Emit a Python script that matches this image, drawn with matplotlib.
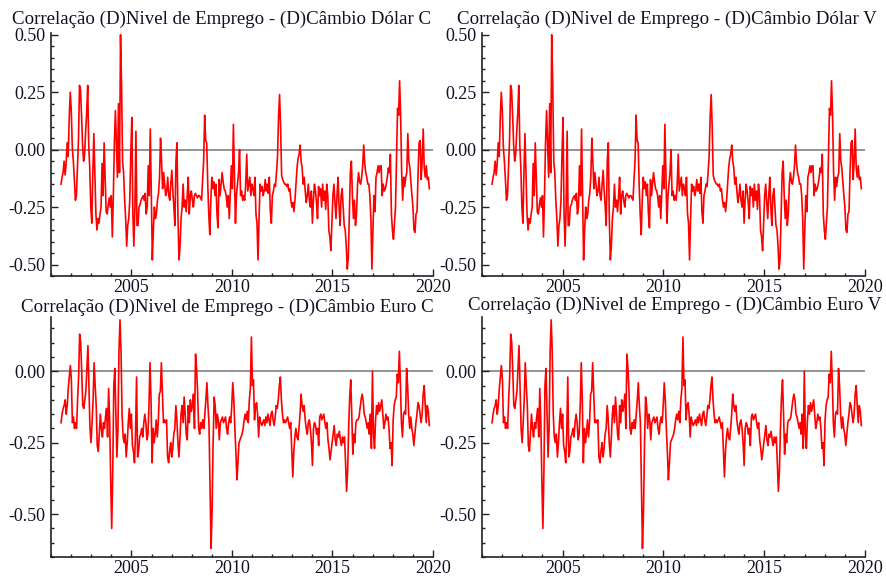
import matplotlib
matplotlib.use("Agg")
import matplotlib.pyplot as plt
import matplotlib.dates as mdates
import matplotlib.ticker as mticker
import pandas as pd
from datetime import datetime

plt.rcParams['font.family'] = ['Liberation Serif', 'DejaVu Serif']
plt.rcParams['axes.unicode_minus'] = False

# rolling correlations, read off the picture from Jul 2001 to Oct 2019
# (roughly two readings per month, evenly spaced in time)
inicio, fim = "2001-07-02", "2019-10-27"

dolar_c = [
    -0.15, -0.12, -0.10, -0.05, -0.11, -0.06, 0.03, -0.03, 0.14, 0.25, 0.17, 0.01, -0.05, -0.13,
    -0.22, -0.20, -0.08, 0.04, 0.28, 0.26, 0.15, 0.02, -0.05, -0.02, 0.08, 0.16, 0.28, 0.02,
    -0.08, -0.25, -0.32, -0.10, 0.07, -0.10, -0.28, -0.35, -0.30, -0.32, -0.28, -0.25,
    -0.06, -0.20, 0.03, -0.12, -0.27, -0.28, -0.24, -0.21, -0.25, -0.20, -0.38, -0.20, 0.03,
    0.17, 0.03, -0.12, 0.20, -0.10, 0.50, 0.28, -0.05, -0.10, -0.22, -0.30, -0.42,
    -0.33, -0.30, -0.22, -0.02, 0.14, -0.28, -0.42, -0.25, 0.08, -0.33, -0.33, -0.25, -0.24,
    -0.22, -0.21, -0.20, -0.22, -0.19, -0.28, -0.25, -0.07, -0.20, 0.09, -0.20, -0.48,
    -0.35, -0.25, -0.30, -0.28, -0.22, -0.19, -0.12, 0.05, -0.05, -0.17, -0.10, -0.15,
    -0.20, -0.18, -0.12, -0.20, -0.22, -0.15, -0.09, -0.18, -0.25, -0.33, -0.05, 0.03,
    -0.30, -0.48, -0.42, -0.30, -0.25, -0.15, -0.25, -0.22, -0.27, -0.20, -0.12, -0.28,
    -0.20, -0.18, -0.22, -0.25, -0.20, -0.19, -0.20, -0.21, -0.20, -0.20, -0.21,
    -0.22, -0.13, -0.05, 0.15, 0.04, 0.03, -0.15, -0.28, -0.37, -0.22, -0.12, -0.17,
    -0.14, -0.20, -0.15, -0.28, -0.34, -0.13, -0.20, -0.15, -0.10, -0.14, -0.17, -0.18,
    -0.20, -0.25, -0.20, -0.30, -0.18, -0.07, -0.17, 0.11, -0.10, -0.32, -0.20, -0.15,
    -0.10, 0.00, -0.20, -0.18, -0.22, -0.20, -0.22, -0.15, -0.02, -0.18, -0.15,
    -0.12, -0.20, -0.15, -0.17, -0.20, -0.12, -0.28, -0.32, -0.48, -0.30, -0.15, -0.18,
    -0.16, -0.20, -0.18, -0.13, -0.18, -0.15, -0.19, -0.12, -0.27, -0.32, -0.20, -0.18,
    -0.15, -0.16, -0.10, -0.03, 0.14, 0.24, 0.10, -0.11, -0.13, -0.14, -0.15, -0.15,
    -0.16, -0.15, -0.18, -0.17, -0.22, -0.25, -0.23, -0.27, -0.22, -0.15, -0.08,
    -0.04, -0.02, 0.02, -0.05, -0.08, -0.15, -0.12, -0.18, -0.23, -0.20, -0.15, -0.22,
    -0.25, -0.18, -0.32, -0.22, -0.15, -0.18, -0.23, -0.30, -0.16, -0.20, -0.17, -0.25,
    -0.15, -0.22, -0.18, -0.26, -0.15, -0.20, -0.35, -0.38, -0.44, -0.32, -0.20,
    -0.15, -0.23, -0.30, -0.20, -0.12, -0.25, -0.33, -0.20, -0.17, -0.25, -0.33, -0.35,
    -0.42, -0.52, -0.47, -0.29, -0.10, -0.05, -0.20, -0.30, -0.22, -0.33, -0.28, -0.15,
    -0.10, -0.14, -0.15, -0.12, -0.07, 0.02, -0.06, -0.10, -0.12, -0.15, -0.15,
    -0.20, -0.30, -0.52, -0.35, -0.20, -0.27, -0.12, -0.10, -0.07, -0.10, -0.07,
    -0.07, -0.20, -0.15, -0.18, -0.17, -0.15, -0.12, -0.08, -0.10, -0.02, -0.28, -0.35,
    -0.39, -0.32, -0.25, -0.03, 0.18, 0.15, 0.30, 0.15, -0.10, -0.22, -0.12, -0.16,
    -0.12, -0.10, 0.07, -0.05, -0.08, -0.14, -0.20, -0.25, -0.35, -0.36, -0.28, -0.27,
    -0.10, 0.03, 0.04, -0.13, -0.05, 0.09, -0.08, -0.12, -0.07, -0.13, -0.12, -0.17,
]
# the "V" panels look the same as the "C" panels in the picture
dolar_v = list(dolar_c)

euro_c = [
    -0.18, -0.15, -0.13, -0.12, -0.10, -0.15, -0.12, -0.06, -0.02, 0.02, -0.03, -0.18, -0.16, -0.20,
    -0.18, -0.20, -0.10, -0.02, 0.13, 0.10, 0.00, -0.12, -0.13, -0.10, -0.07, 0.01, 0.09, -0.05, -0.20,
    -0.25, -0.18, -0.10, 0.03, -0.05, -0.12, -0.26, -0.28, -0.22, -0.15, -0.20, -0.23, -0.18,
    -0.20, -0.16, -0.13, -0.23, -0.06, -0.17, -0.38, -0.55, -0.35, -0.05, 0.01, -0.15, -0.30,
    -0.20, 0.07, 0.18, 0.07, -0.15, -0.23, -0.25, -0.22, -0.30, -0.25, -0.18, -0.13,
    -0.20, -0.15, -0.26, -0.28, -0.32, -0.22, -0.02, -0.30, -0.28, -0.23, -0.22, -0.20,
    -0.23, -0.18, -0.15, -0.18, -0.24, -0.22, -0.12, 0.03, -0.10, -0.32, -0.20, -0.25,
    -0.22, -0.17, -0.23, -0.18, -0.08, -0.07, 0.03, -0.07, -0.18, -0.17, -0.18, -0.17,
    -0.30, -0.32, -0.28, -0.25, -0.30, -0.27, -0.22, -0.20, -0.12, -0.17, -0.25, -0.30,
    -0.23, -0.15, -0.12, -0.18, -0.09, -0.15, -0.22, -0.24, -0.12, -0.18, -0.10, -0.14,
    -0.12, -0.08, -0.20, 0.06, 0.01, -0.07, -0.20, -0.22, -0.18, -0.20, -0.17, -0.20,
    -0.15, -0.10, -0.04, -0.12, -0.18, -0.40, -0.62, -0.49, -0.25, -0.09, -0.12, -0.20,
    -0.15, -0.17, -0.24, -0.18, -0.17, -0.16, -0.18, -0.17, -0.16, -0.20, -0.22,
    -0.18, -0.16, -0.18, -0.12, -0.04, -0.10, -0.20, -0.28, -0.38, -0.32, -0.25, -0.24,
    -0.23, -0.22, -0.20, -0.17, -0.15, -0.17, -0.14, -0.18, -0.10, -0.06, 0.12,
    -0.05, -0.03, -0.17, -0.12, -0.11, -0.15, -0.23, -0.16, -0.18, -0.19, -0.18, -0.17,
    -0.19, -0.16, -0.18, -0.15, -0.17, -0.19, -0.15, -0.14, -0.17, -0.19, -0.16,
    -0.12, -0.13, -0.10, -0.05, -0.02, -0.10, -0.15, -0.18, -0.17, -0.18, -0.17, -0.16,
    -0.18, -0.20, -0.18, -0.28, -0.37, -0.28, -0.23, -0.20, -0.23, -0.24, -0.20, -0.15,
    -0.08, -0.12, -0.14, -0.12, -0.17, -0.20, -0.22, -0.18, -0.17, -0.20, -0.25,
    -0.33, -0.20, -0.18, -0.19, -0.22, -0.20, -0.26, -0.16, -0.15, -0.17, -0.16, -0.15,
    -0.18, -0.20, -0.18, -0.24, -0.27, -0.31, -0.28, -0.25, -0.22, -0.19, -0.24,
    -0.26, -0.22, -0.23, -0.21, -0.24, -0.26, -0.23, -0.25, -0.23, -0.32, -0.42, -0.35,
    -0.20, -0.09, -0.03, -0.15, -0.29, -0.22, -0.25, -0.18, -0.17, -0.17, -0.16,
    -0.13, -0.10, -0.08, -0.10, -0.15, -0.16, -0.18, -0.20, -0.18, -0.22, -0.15, -0.27,
    0.00, -0.22, -0.27, -0.17, -0.12, -0.15, -0.11, -0.14, -0.12, -0.10, -0.15, -0.20,
    -0.18, -0.15, -0.17, -0.16, -0.20, -0.27, -0.25, -0.33, -0.17, -0.12, -0.10,
    -0.09, -0.01, -0.04, 0.07, -0.04, -0.18, -0.23, -0.15, -0.14, -0.15, 0.01, -0.05,
    -0.15, -0.20, -0.16, -0.20, -0.22, -0.26, -0.22, -0.18, -0.15, -0.11, -0.12, -0.15,
    -0.18, -0.15, -0.08, -0.05, -0.12, -0.18, -0.12, -0.14, -0.19,
]
euro_v = list(euro_c)

titulos = [
    "Correlação (D)Nivel de Emprego - (D)Câmbio Dólar C",
    "Correlação (D)Nivel de Emprego - (D)Câmbio Dólar V",
    "Correlação (D)Nivel de Emprego - (D)Câmbio Euro C",
    "Correlação (D)Nivel de Emprego - (D)Câmbio Euro V",
]

W, H = 886, 581
fig = plt.figure(figsize=(W / 100, H / 100), dpi=100)

# (left, right, top, bottom) in pixels, title centre x / baseline y, ylim
paineis = [
    (dolar_c, (51, 433, 33, 276), (222, 24), (-0.55, 0.508)),
    (dolar_v, (482, 865, 33, 276), (667, 24), (-0.55, 0.508)),
    (euro_c, (51, 433, 317, 557), (227, 312), (-0.65, 0.19)),
    (euro_v, (482, 865, 317, 557), (675, 310), (-0.65, 0.19)),
]

txt = "#111122"
for k, (serie, (l, r, t, b), (tx, ty), ylim) in enumerate(paineis):
    datas = pd.date_range(inicio, fim, periods=len(serie))
    ax = fig.add_axes([l / W, 1 - b / H, (r - l) / W, (b - t) / H])
    ax.axhline(0, color="#808080", lw=1.2, zorder=1)
    ax.plot(datas, serie, color="#ff0000", lw=1.2, zorder=2)

    ax.set_xlim(datetime(2001, 1, 1), datetime(2020, 1, 1))
    ax.set_ylim(*ylim)
    ax.xaxis.set_major_locator(mdates.YearLocator(5))
    ax.xaxis.set_minor_locator(mdates.YearLocator(1))
    ax.xaxis.set_major_formatter(mdates.DateFormatter("%Y"))
    ax.yaxis.set_major_locator(mticker.MultipleLocator(0.25))
    ax.yaxis.set_minor_locator(mticker.MultipleLocator(0.05))
    ax.yaxis.set_major_formatter(mticker.FormatStrFormatter("%.2f"))

    for s in ["top", "right"]:
        ax.spines[s].set_visible(False)
    for s in ["left", "bottom"]:
        ax.spines[s].set_color("#222222")
        ax.spines[s].set_linewidth(1.2)
    ax.tick_params(which="both", direction="in", color="#222222", width=1,
                   labelsize=13, labelcolor=txt)
    ax.tick_params(which="major", length=5)
    ax.tick_params(which="minor", length=2.5)
    ax.tick_params(axis="x", pad=2)
    ax.tick_params(axis="y", pad=4)

    fig.text(tx / W, 1 - ty / H, titulos[k], ha="center", va="baseline",
             fontsize=13.6, color=txt)

fig.savefig("out.png", dpi=100)
